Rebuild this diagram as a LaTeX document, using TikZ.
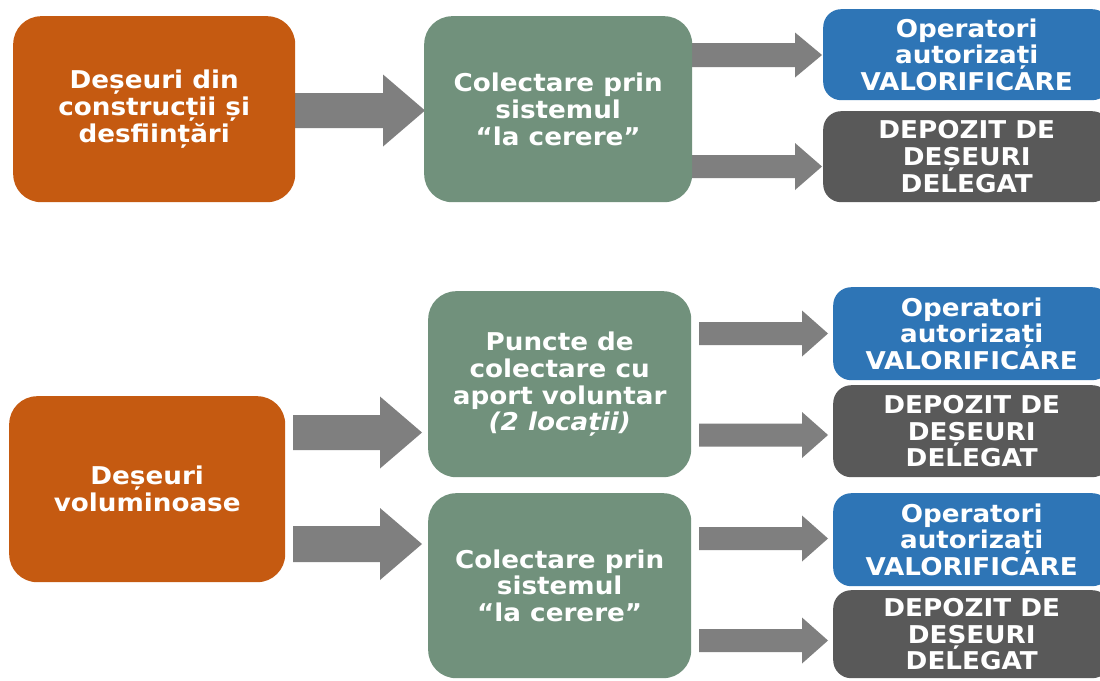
\documentclass[tikz,border=0pt]{standalone}
\usepackage{fontspec}
\setmainfont{DejaVu Sans}[FakeStretch=1.07]
\definecolor{boxorange}{HTML}{C55A11}
\definecolor{boxgreen}{HTML}{71917C}
\definecolor{boxblue}{HTML}{2E75B6}
\definecolor{boxgray}{HTML}{595959}
\definecolor{arrowgray}{HTML}{7F7F7F}
\newcommand\blockarr[6]{% x0, x head base, x tip, y centre, shaft half, head half
  \fill[arrowgray] (#1,{#4-#5}) -- (#2,{#4-#5}) -- (#2,{#4-#6}) -- (#3,#4) -- (#2,{#4+#6}) -- (#2,{#4+#5}) -- (#1,{#4+#5}) -- cycle;}
\begin{document}
\begin{tikzpicture}[x=1pt,y=-1pt,
  box/.style={rounded corners=28pt, text=white, font=\bfseries\fontsize{24.5}{26.8}\selectfont, align=center, inner sep=0pt, anchor=north west},
  smallbox/.style={box, rounded corners=18pt},
  bigbox/.style={box, minimum height=186}]
\useasboundingbox (0,0) rectangle (1100,680);
\clip (0,0) rectangle (1100,680);
\fill[white] (0,0) rectangle (1100,680);
% arrows
\blockarr{295}{383}{425}{110.5}{17.5}{36}
\blockarr{690}{795}{822}{55}{12}{22.5}
\blockarr{690}{795}{822}{166.5}{11.5}{23.5}
\blockarr{293}{380}{422}{432.5}{17.5}{36}
\blockarr{293}{380}{422}{544}{18}{36}
\blockarr{699}{802}{828}{333.5}{11.5}{23}
\blockarr{699}{802}{828}{435}{11.5}{23}
\blockarr{699}{802}{828}{538.5}{11.5}{23}
\blockarr{699}{802}{828}{640.5}{11.5}{23}
% boxes
\node[bigbox, fill=boxorange, minimum width=282] (cd) at (13,16) {Deșeuri din\\construcții și\\desființări};
\node[bigbox, fill=boxgreen, minimum width=268] (col1) at (424,16) {Colectare prin\\sistemul\\“la cerere”};
\node[smallbox, fill=boxblue, minimum width=287, minimum height=91] (op1) at (823,9) {Operatori\\autorizați\\VALORIFICARE};
\node[smallbox, fill=boxgray, minimum width=287, minimum height=91] (dep1) at (823,111) {DEPOZIT DE\\DEȘEURI\\DELEGAT};
\node[bigbox, fill=boxorange, minimum width=276] (vol) at (9,396) {Deșeuri\\voluminoase};
\node[bigbox, fill=boxgreen, minimum width=263] (pun) at (428,291) {Puncte de\\colectare cu\\aport voluntar\\\textit{(2 locații)}};
\node[box, fill=boxgreen, minimum width=263, minimum height=185] (col2) at (428,493) {Colectare prin\\sistemul\\“la cerere”};
\node[smallbox, fill=boxblue, minimum width=277, minimum height=93] (op2) at (833,287) {Operatori\\autorizați\\VALORIFICARE};
\node[smallbox, fill=boxgray, minimum width=277, minimum height=92] (dep2) at (833,385) {DEPOZIT DE\\DEȘEURI\\DELEGAT};
\node[smallbox, fill=boxblue, minimum width=277, minimum height=93] (op3) at (833,493) {Operatori\\autorizați\\VALORIFICARE};
\node[smallbox, fill=boxgray, minimum width=277, minimum height=88] (dep3) at (833,590) {DEPOZIT DE\\DEȘEURI\\DELEGAT};
\end{tikzpicture}
\end{document}
